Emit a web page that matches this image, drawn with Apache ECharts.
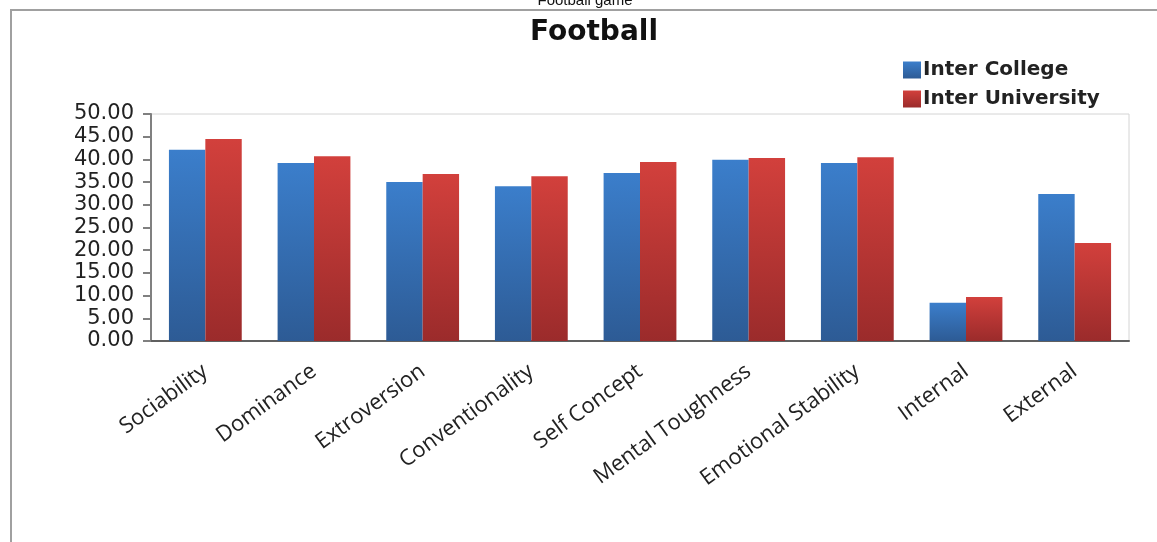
<!DOCTYPE html>
<html><head><meta charset="utf-8">
<script src="https://cdn.jsdelivr.net/npm/echarts@6/dist/echarts.min.js"></script>
<style>
html,body{margin:0;padding:0;background:#fff;}
#frame{position:absolute;left:10px;top:9px;width:1200px;height:600px;border-left:2px solid #a0a0a0;border-top:2px solid #a0a0a0;}
#main{position:absolute;left:0;top:0;width:1157px;height:542px;}
</style></head>
<body>
<div id="frame"></div>
<div id="main"></div>
<script>
var categories = ["Sociability","Dominance","Extroversion","Conventionality","Self Concept","Mental Toughness","Emotional Stability","Internal","External"];
var interCollege = [42.1, 39.2, 35.0, 34.1, 37.0, 39.9, 39.2, 8.4, 32.4];
var interUniversity = [44.5, 40.7, 36.8, 36.3, 39.4, 40.3, 40.5, 9.7, 21.6];
var seriesNames = ["Inter College","Inter University"];

var chart = echarts.init(document.getElementById('main'));
function grad(top, bottom){
  return new echarts.graphic.LinearGradient(0,0,0,1,[{offset:0,color:top},{offset:1,color:bottom}]);
}
chart.setOption({
  animation:false,
  backgroundColor:'transparent',
  title:[
    {text:'Football game', left:580, textAlign:'center', top:-12, textStyle:{fontFamily:'Liberation Sans', fontSize:15, fontWeight:'normal', color:'#111'}},
    {text:'Football', left:589, textAlign:'center', top:14, textStyle:{fontFamily:'DejaVu Sans', fontSize:28, fontWeight:'bold', color:'#111'}}
  ],
  legend:{
    orient:'vertical', left:898, top:55, itemWidth:18, itemHeight:17, itemGap:9,
    icon:'rect',
    textStyle:{fontFamily:'DejaVu Sans', fontSize:20, fontWeight:'bold', color:'#222', padding:[0,0,0,-3]},
    data:seriesNames
  },
  grid:{left:151, right:28, top:114, bottom:201, show:true, borderColor:'#d4d4d4', borderWidth:1},
  xAxis:{type:'category', data:categories,
     axisLine:{lineStyle:{color:'#606060', width:2}}, axisTick:{show:false},
     axisLabel:{rotate:36, margin:28, fontFamily:'Open Sans', fontSize:22, color:'#222', interval:0}},
  yAxis:{type:'value', min:0, max:50, interval:5,
     axisLine:{show:true, lineStyle:{color:'#808080', width:2}},
     axisTick:{show:true, length:8, lineStyle:{color:'#808080', width:2}},
     splitLine:{show:false},
     axisLabel:{margin:17, fontFamily:'DejaVu Sans', fontSize:21, color:'#222', formatter:function(v){return v.toFixed(2);}}},
  series:[
    {name:seriesNames[0], type:'bar', data:interCollege, barGap:'0%', barCategoryGap:'33%',
     itemStyle:{color:grad('#3b7ecb','#2d5b95')}},
    {name:seriesNames[1], type:'bar', data:interUniversity, barGap:'0%', barCategoryGap:'33%',
     itemStyle:{color:grad('#d2403c','#9b2b2b')}}
  ]
});
</script>
</body></html>
